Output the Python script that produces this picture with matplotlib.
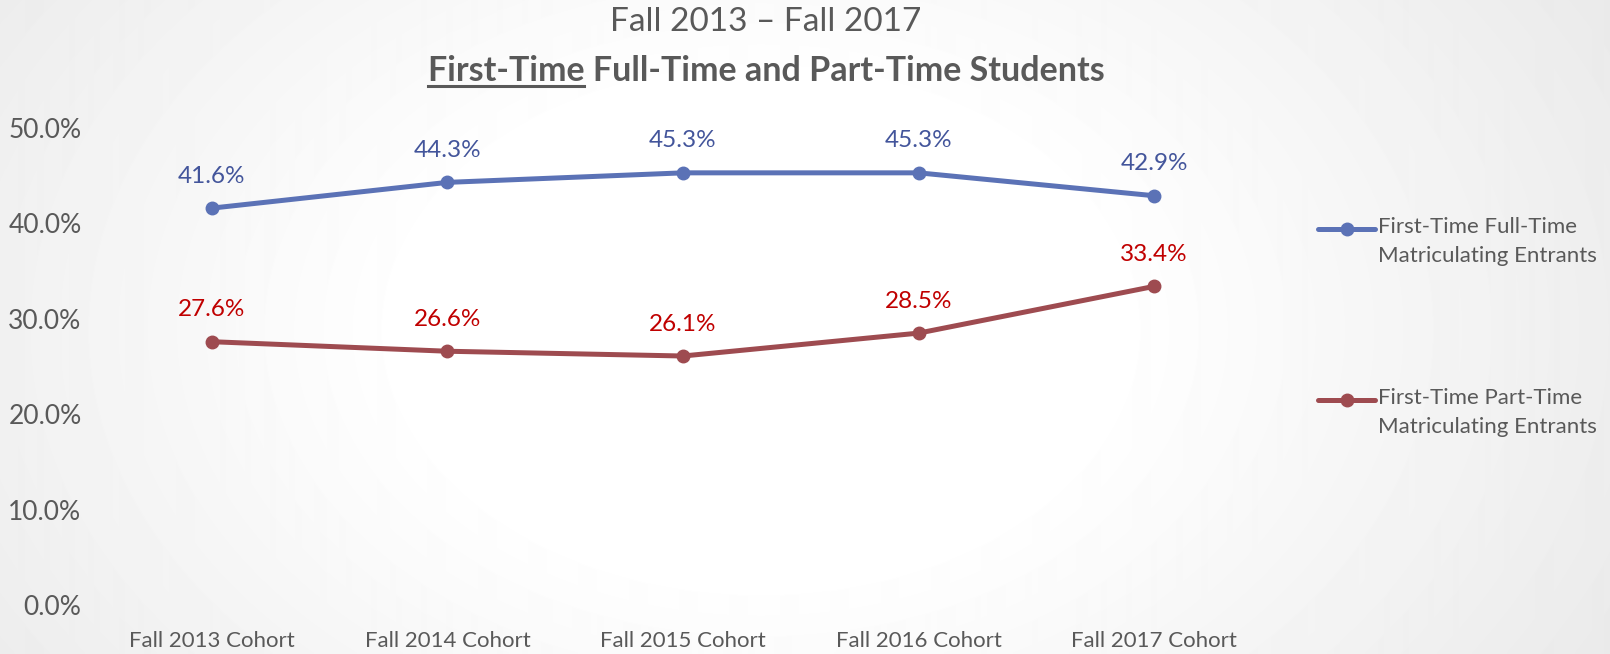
import matplotlib
matplotlib.use("Agg")

import matplotlib.pyplot as plt
import numpy as np
from matplotlib.ticker import PercentFormatter

plt.rcParams["font.family"] = ["Lato", "DejaVu Sans"]

# data
cohorts = ["Fall 2013 Cohort", "Fall 2014 Cohort", "Fall 2015 Cohort",
           "Fall 2016 Cohort", "Fall 2017 Cohort"]
full_time = [41.6, 44.3, 45.3, 45.3, 42.9]
part_time = [27.6, 26.6, 26.1, 28.5, 33.4]
series_names = ["First-Time Full-Time\nMatriculating Entrants",
                "First-Time Part-Time\nMatriculating Entrants"]
y_ticks = [0, 10, 20, 30, 40, 50]

GRAY = "#595959"
BLUE, BLUE_TXT = "#5b72b6", "#43559b"
RED, RED_TXT = "#9e4b50", "#c00000"

fig = plt.figure(figsize=(16.1, 6.54), dpi=100)

# soft radial background
bg = fig.add_axes([0, 0, 1, 1], zorder=-10)
yy, xx = np.mgrid[0:654, 0:1610]
r = np.hypot((xx - 760) / 1000.0, (yy - 330) / 700.0)
shade = 1.0 - 0.08 * np.clip((r - 0.35) / 0.6, 0, 1)
bg.imshow(shade, cmap="gray", vmin=0, vmax=1, aspect="auto", interpolation="bilinear")
bg.axis("off")

ax = fig.add_axes([94 / 1610, 1 - 605 / 654, (1272 - 94) / 1610, (605 - 128) / 654])
ax.patch.set_alpha(0)
x = np.arange(len(cohorts))
series = [(full_time, BLUE, BLUE_TXT), (part_time, RED, RED_TXT)]
for vals, col, tcol in series:
    ax.plot(x, vals, color=col, lw=3.6, marker="o", ms=9, solid_capstyle="round")
    for xi, v in zip(x, vals):
        ax.annotate(f"{v:.1f}%", (xi, v), xytext=(0, 23), textcoords="offset points",
                    ha="center", va="center", fontsize=17.5, color=tcol)

ax.set_xlim(-0.5, len(cohorts) - 0.5)
ax.set_ylim(0, 50)
ax.set_yticks(y_ticks)
ax.yaxis.set_major_formatter(PercentFormatter(decimals=1))
ax.set_xticks(x)
ax.set_xticklabels(cohorts)
ax.tick_params(length=0, colors=GRAY)
ax.tick_params(axis="x", pad=19, labelsize=16)
ax.tick_params(axis="y", pad=9, labelsize=19)
for s in ax.spines.values():
    s.set_visible(False)

# legend, drawn by hand so the marker sits on the first text line
for i, ((vals, col, _), name) in enumerate(zip(series, series_names)):
    ly = 1 - (229 + 171 * i) / 654
    fig.add_artist(plt.Line2D([1318 / 1610, 1375 / 1610], [ly, ly], color=col, lw=3.6,
                              solid_capstyle="round"))
    fig.add_artist(plt.Line2D([1347 / 1610], [ly], color=col, marker="o", ms=9))
    fig.text(1378 / 1610, ly + 12 / 654, name, ha="left", va="top", fontsize=16,
             color=GRAY, linespacing=1.55)

# title
fig.text(766 / 1610, 1 - 22 / 654, "Fall 2013 \u2013 Fall 2017", ha="center",
         va="center", fontsize=24, color=GRAY)
t2 = fig.text(766 / 1610, 1 - 71 / 654, "First-Time Full-Time and Part-Time Students",
              ha="center", va="center", fontsize=24.5, color=GRAY, fontweight="bold")
fig.canvas.draw()
rend = fig.canvas.get_renderer()
bb = t2.get_window_extent(rend)
probe = fig.text(0, 0, "First-Time", fontsize=24.5, fontweight="bold")
w = probe.get_window_extent(rend).width
probe.remove()
uy = bb.y0 + 1
fig.add_artist(plt.Line2D([bb.x0, bb.x0 + w], [uy, uy], transform=None,
                          color=GRAY, lw=2.2))

fig.savefig("out.png", dpi=100)
